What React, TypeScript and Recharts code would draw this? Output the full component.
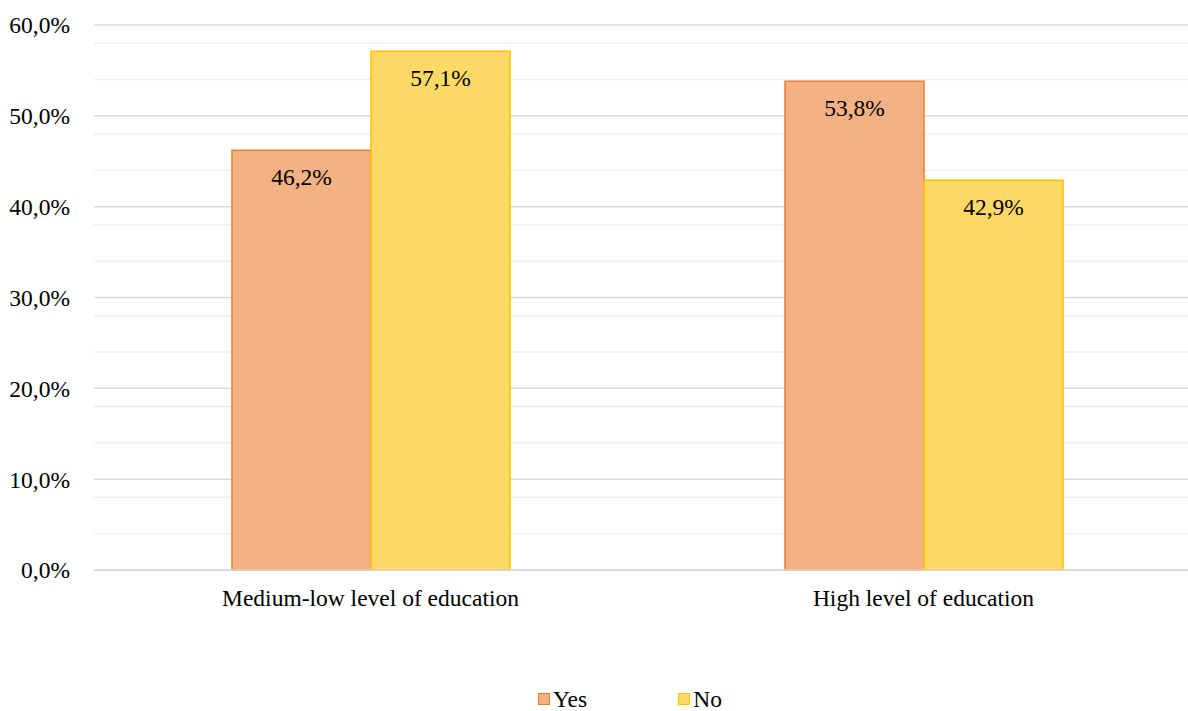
import { BarChart, Bar, XAxis, YAxis, CartesianGrid, Legend, LabelList } from "recharts";

const categories = ["Medium-low level of education", "High level of education"];
const yesValues = [46.2, 53.8];
const noValues = [57.1, 42.9];
const majorTicks = [0, 10, 20, 30, 40, 50, 60];
const minorTicks = [2, 4, 6, 8, 12, 14, 16, 18, 22, 24, 26, 28, 32, 34, 36, 38, 42, 44, 46, 48, 52, 54, 56, 58];

const series = [
  { key: "yes", name: "Yes", fill: "#F4B183", stroke: "#ED7D31" },
  { key: "no", name: "No", fill: "#FFD966", stroke: "#FFC000" },
];

const data = categories.map((c, i) => ({ category: c, yes: yesValues[i], no: noValues[i] }));

const pct = (v: any) => `${Number(v).toFixed(1).replace(".", ",")}%`;
const FONT = "Times New Roman";
const FS = 23.5;

function LegendRow() {
  return (
    <div style={{ height: 111, display: "flex", alignItems: "flex-end", paddingLeft: 538, paddingBottom: 2, boxSizing: "border-box", fontFamily: FONT, fontSize: FS, color: "#000" }}>
      {series.map((s, i) => (
        <div key={s.key} style={{ display: "flex", alignItems: "center", marginRight: i === 0 ? 91 : 0, lineHeight: "20px" }}>
          <span style={{ width: 10, height: 10, background: s.fill, border: `1.5px solid ${s.stroke}`, marginRight: 3, display: "inline-block" }} />
          <span>{s.name}</span>
        </div>
      ))}
    </div>
  );
}

export default function App() {
  return (
    <div style={{ position: "absolute", left: 0, top: 0, width: 1188, height: 711, overflow: "hidden", background: "#fff", fontFamily: FONT }}>
      <BarChart width={1200} height={711} data={data} margin={{ top: 25, right: 0, left: 0, bottom: 0 }} barCategoryGap={138} barGap={0}>
        <CartesianGrid vertical={false} stroke="#efefef" strokeWidth={1.5} horizontalValues={minorTicks} />
        <CartesianGrid vertical={false} stroke="#d9d9d9" strokeWidth={1.5} horizontalValues={majorTicks} />
        <XAxis
          dataKey="category"
          height={30}
          tickSize={0}
          tickMargin={19}
          tickLine={false}
          axisLine={{ stroke: "#d9d9d9", strokeWidth: 1.5 }}
          tick={{ fill: "#000", fontSize: FS, fontFamily: FONT }}
        />
        <YAxis
          width={94}
          domain={[0, 60]}
          ticks={majorTicks}
          tickFormatter={pct}
          tickSize={0}
          tickMargin={24}
          axisLine={false}
          tickLine={false}
          tick={{ fill: "#000", fontSize: FS, fontFamily: FONT }}
        />
        <Legend verticalAlign="bottom" content={() => <LegendRow />} />
        {series.map((s) => (
          <Bar key={s.key} dataKey={s.key} name={s.name} fill={s.fill} stroke={s.stroke} strokeWidth={1.5} isAnimationActive={false}>
            <LabelList dataKey={s.key} position="insideTop" offset={18} formatter={pct} fill="#000" fontSize={FS} fontFamily={FONT} />
          </Bar>
        ))}
      </BarChart>
    </div>
  );
}
